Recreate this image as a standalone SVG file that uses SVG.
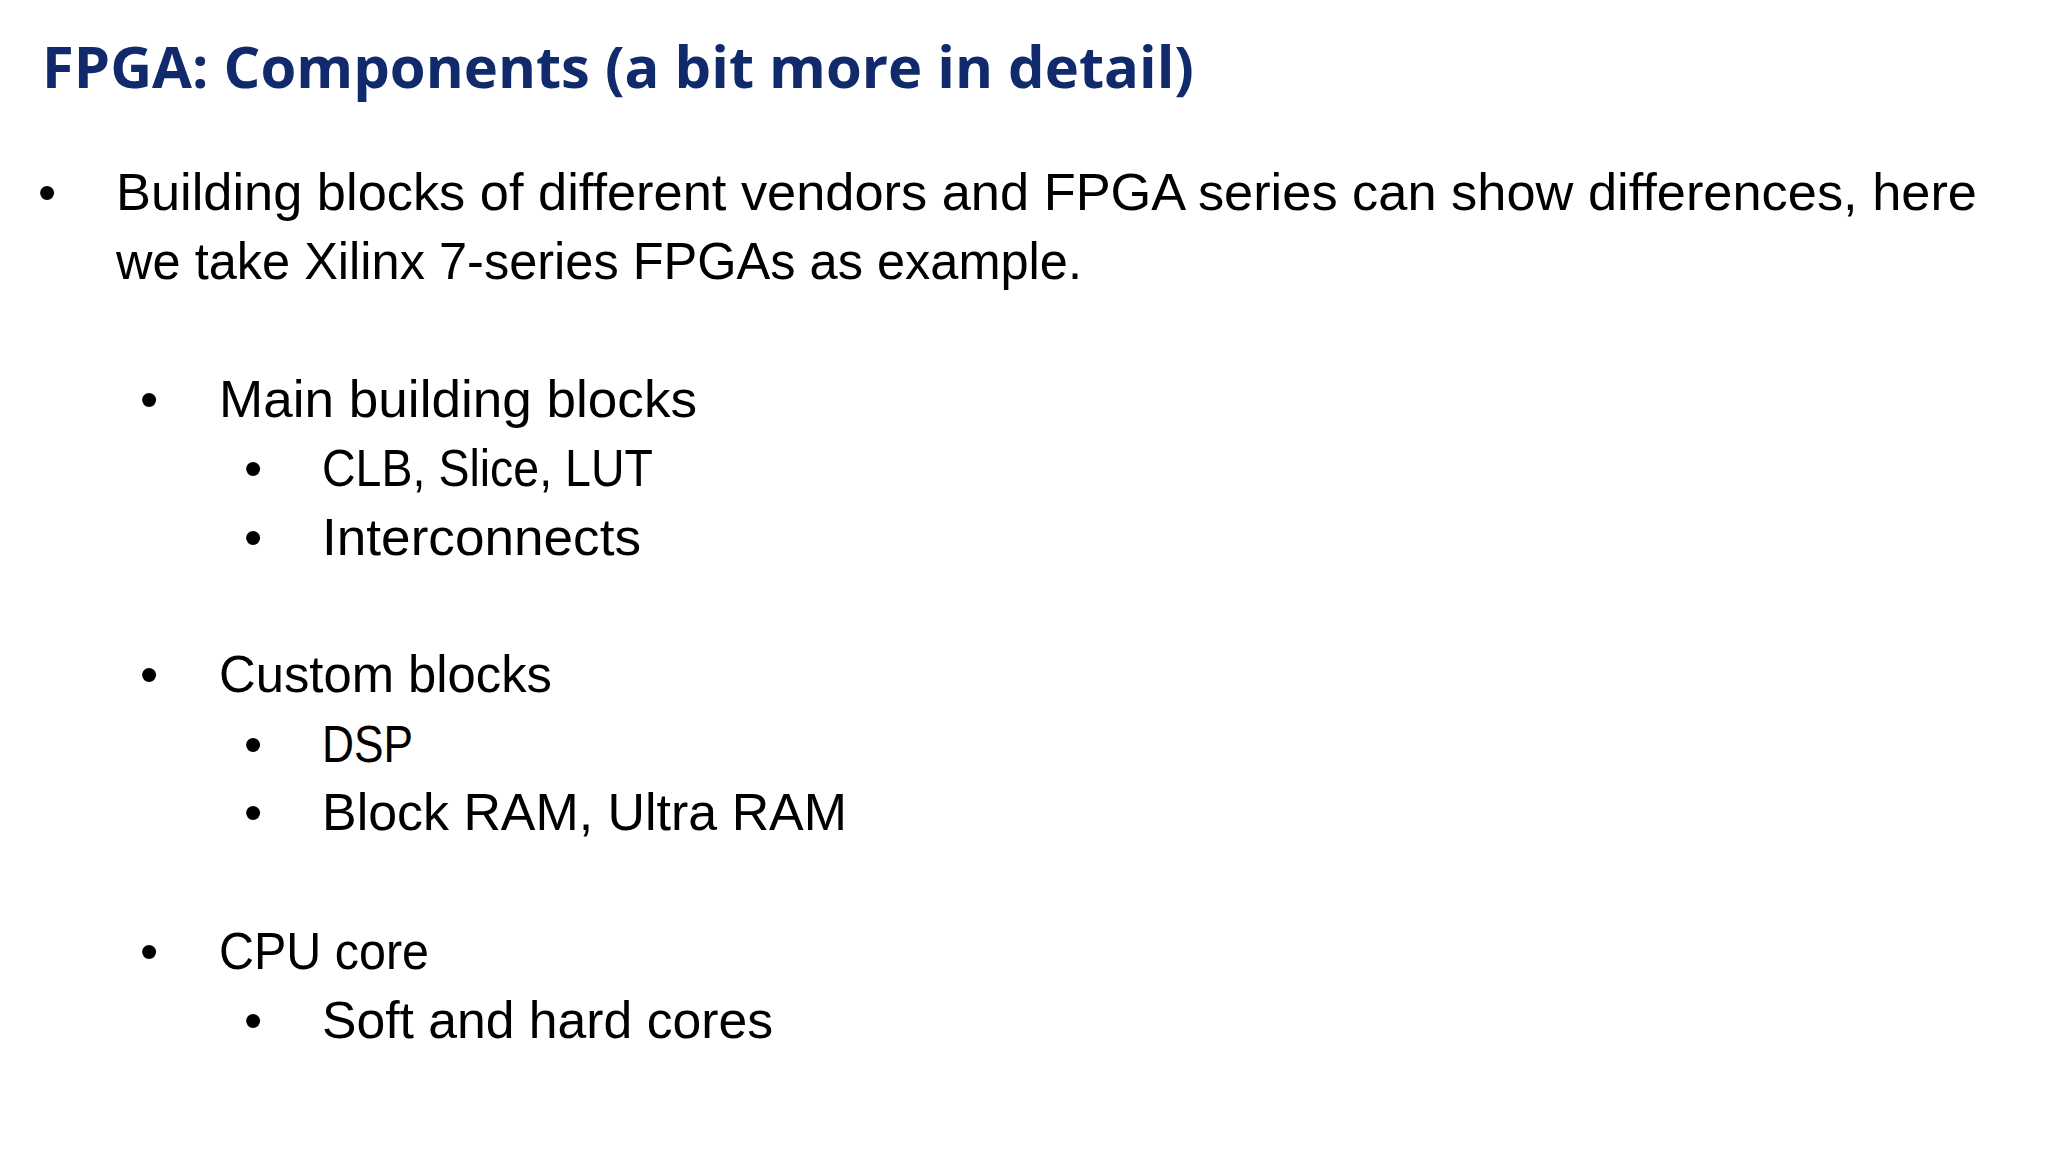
<svg xmlns="http://www.w3.org/2000/svg" width="2048" height="1152" viewBox="0 0 2048 1152">
<style>
.t{font-family:"Liberation Sans",Arial,sans-serif;font-size:52px;fill:#000}
.h{font-family:"Open Sans","Liberation Sans",sans-serif;font-weight:bold;font-size:58px;fill:#102a6b}
</style>
<rect width="2048" height="1152" fill="#fff"/>
<g id="title"><text class="h" x="42" y="88" textLength="1152" lengthAdjust="spacingAndGlyphs">FPGA: Components (a bit more in detail)</text></g>
<g id="body">
<text class="t" x="38" y="210">•</text>
<text class="t" x="116" y="210" textLength="1861" lengthAdjust="spacingAndGlyphs">Building blocks of  different vendors and FPGA series can show differences, here</text>
<text class="t" x="116" y="279" textLength="966" lengthAdjust="spacingAndGlyphs">we take Xilinx 7-series FPGAs as example.</text>
<text class="t" x="140" y="417">•</text>
<text class="t" x="219" y="417" textLength="478" lengthAdjust="spacingAndGlyphs">Main building blocks</text>
<text class="t" x="244" y="486">•</text>
<text class="t" x="322" y="486" textLength="331" lengthAdjust="spacingAndGlyphs">CLB, Slice, LUT</text>
<text class="t" x="244" y="555">•</text>
<text class="t" x="322" y="555" textLength="319" lengthAdjust="spacingAndGlyphs">Interconnects</text>
<text class="t" x="140" y="692">•</text>
<text class="t" x="219" y="692" textLength="333" lengthAdjust="spacingAndGlyphs">Custom blocks</text>
<text class="t" x="244" y="762">•</text>
<text class="t" x="322" y="762" textLength="91" lengthAdjust="spacingAndGlyphs">DSP</text>
<text class="t" x="244" y="830">•</text>
<text class="t" x="322" y="830" textLength="525" lengthAdjust="spacingAndGlyphs">Block RAM, Ultra RAM</text>
<text class="t" x="140" y="969">•</text>
<text class="t" x="219" y="969" textLength="210" lengthAdjust="spacingAndGlyphs">CPU core</text>
<text class="t" x="244" y="1038">•</text>
<text class="t" x="322" y="1038" textLength="451" lengthAdjust="spacingAndGlyphs">Soft and hard cores</text>
</g>
</svg>
